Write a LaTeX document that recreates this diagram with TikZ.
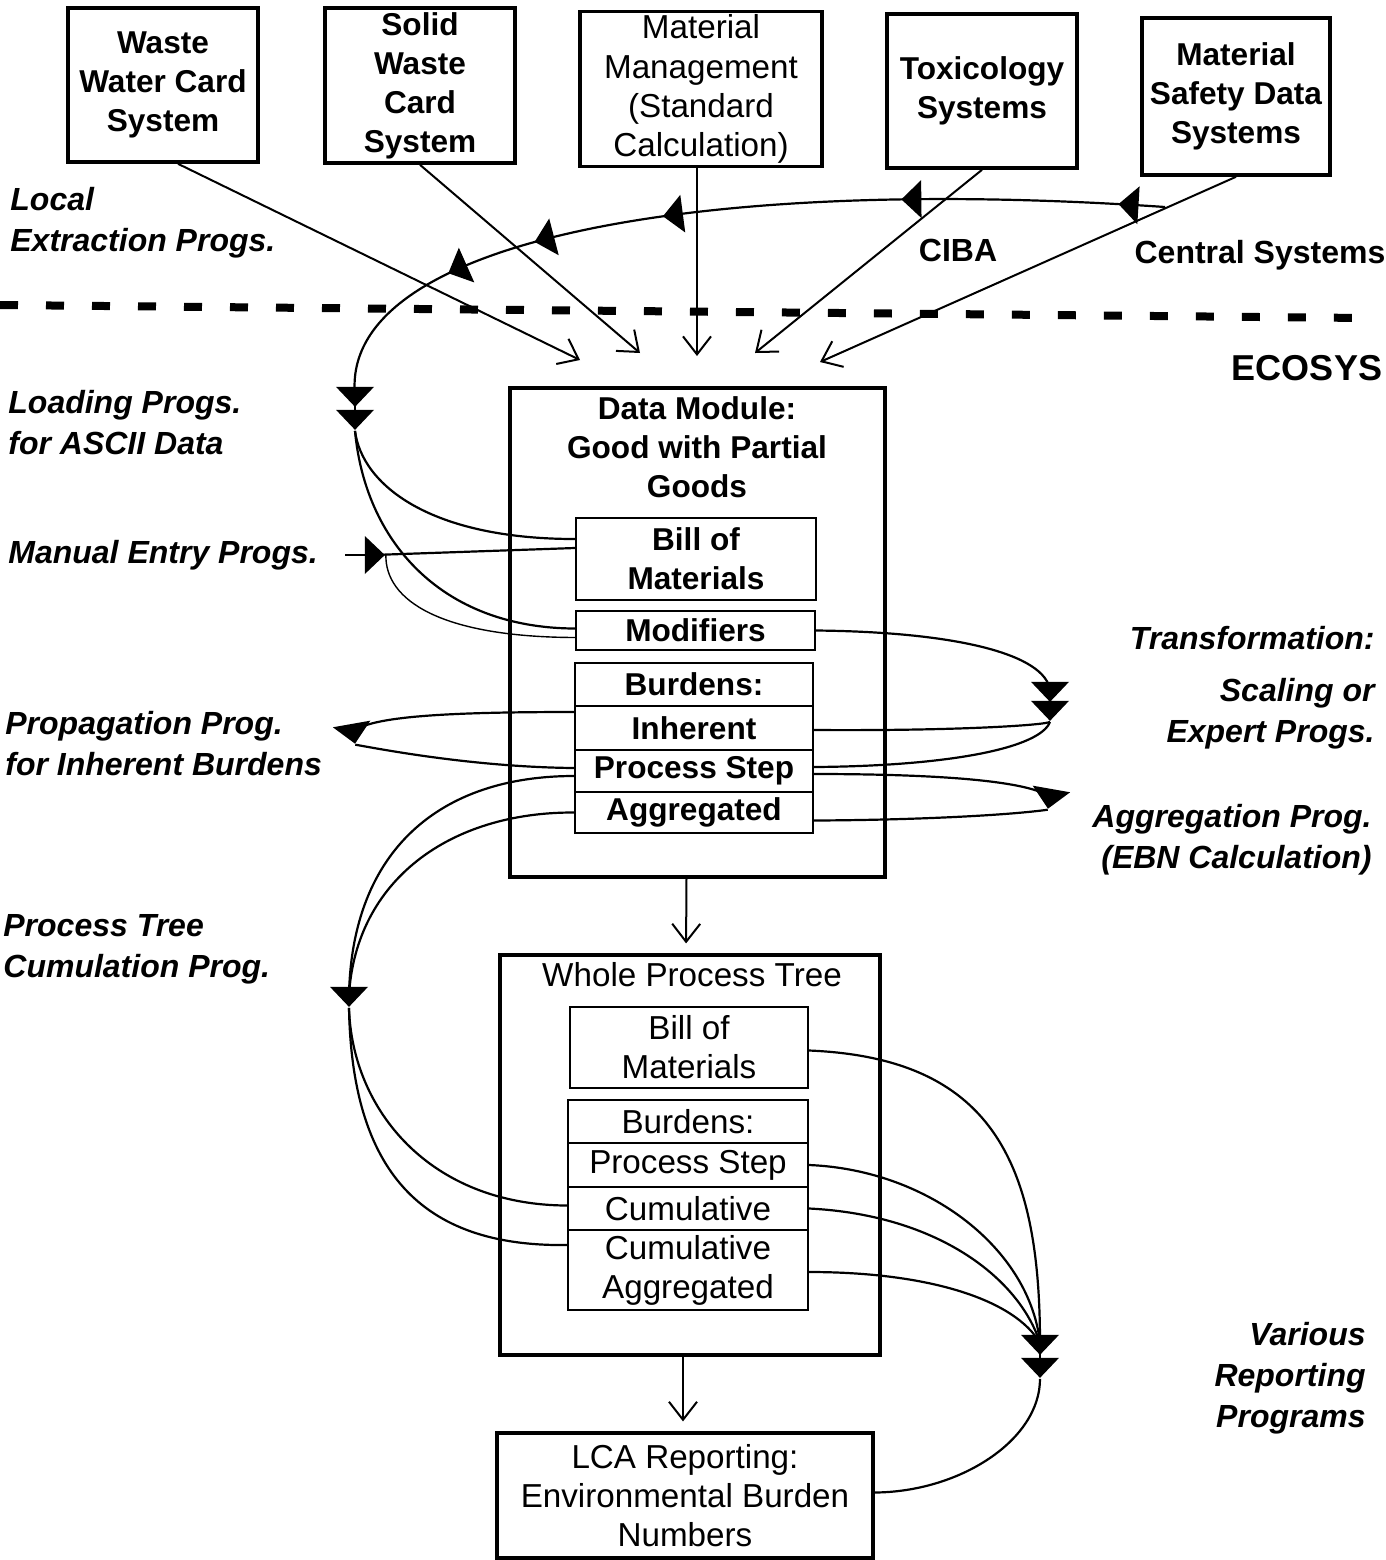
\documentclass[tikz,border=0pt]{standalone}
\usepackage{fontspec}
\setmainfont{Liberation Sans}
\usepackage{tikz}
\newcommand{\progbase}{19pt}
\newcommand{\progdepth}{10pt}
\newcommand{\boldbox}{\fontsize{15.8}{19.5}\selectfont\bfseries}
\newcommand{\plainbox}{\fontsize{16.6}{19.6}\selectfont}
\usetikzlibrary{arrows.meta}
\usetikzlibrary{calc}
\usetikzlibrary{positioning}
\usetikzlibrary{shapes.geometric}
\tikzstyle{srcbox}=[draw, line width=1.8pt, inner sep=0, align=center, font=\boldbox]
\tikzstyle{modbox}=[draw, line width=1.6pt, inner sep=0, align=center, font=\plainbox]
\tikzstyle{subbox}=[draw, line width=1.1pt, inner sep=0, align=center, font=\boldbox]
\tikzstyle{plainsub}=[subbox, font=\plainbox]
\tikzstyle{boxtitle}=[inner sep=0, align=center]
\tikzstyle{prog}=[isosceles triangle, isosceles triangle stretches, fill, inner sep=0,
                  minimum width=\progbase, minimum height=\progdepth]
\tikzstyle{proglabel}=[inner sep=0, font=\fontsize{16}{20.5}\selectfont\bfseries\itshape]
\tikzstyle{sitelabel}=[inner sep=0, font=\fontsize{16}{20}\selectfont\bfseries]
\tikzstyle{feed}=[line width=1pt, -{Straight Barb[length=9pt, width=14pt]}]
\tikzstyle{flow}=[line width=1.1pt]
\tikzstyle{thinflow}=[line width=0.7pt]

\begin{document}
\begin{tikzpicture}[x=0.5pt, y=-0.5pt]
    \useasboundingbox (0,0) rectangle (1386,1560);
    % source systems
    \node[srcbox, minimum width=95pt, minimum height=77pt] (ww) at (163,85) {Waste\\Water Card\\System};
    \node[srcbox, minimum width=95pt, minimum height=77.5pt] (sw) at (420,85.5) {Solid\\Waste\\Card\\System};
    \node[srcbox, font=\plainbox, minimum width=121pt, minimum height=77.5pt] (mm) at (701,89) {Material\\Management\\(Standard\\Calculation)};
    \node[srcbox, minimum width=95pt, minimum height=77pt] (tox) at (982,91) {Toxicology\\Systems};
    \node[srcbox, minimum width=94pt, minimum height=78.5pt] (msds) at (1236,96.5) {Material\\Safety Data\\Systems};

    % data module
    \node[modbox, minimum width=187.5pt, minimum height=244.5pt] (dm) at (697.5,632.5) {};
    \node[boxtitle, font=\boldbox] (dmtitle) at (697,447) {Data Module:\\Good with Partial\\Goods};
    \node[subbox, minimum width=120pt, minimum height=41pt] (dmbom) at (696,559) {Bill of\\Materials};
    \node[subbox, minimum width=119.5pt, minimum height=19.5pt] (dmmod) at (695.5,630.5) {Modifiers};
    \node[subbox, minimum width=119pt, minimum height=21.5pt] (dmbur) at (694,684.5) {Burdens:};
    \node[subbox, minimum width=119pt, minimum height=22pt] (dminh) at (694,728) {Inherent};
    \node[subbox, minimum width=119pt, minimum height=21pt] (dmps) at (694,771) {Process Step};
    \node[subbox, minimum width=119pt, minimum height=20.5pt] (dmagg) at (694,812.5) {Aggregated};

    % whole process tree
    \node[modbox, minimum width=190pt, minimum height=200pt] (wpt) at (690,1155) {};
    \node[boxtitle, font=\plainbox] (wpttitle) at (692,975) {Whole Process Tree};
    \node[plainsub, minimum width=119pt, minimum height=40.5pt] (wpbom) at (689,1047.5) {Bill of\\Materials};
    \node[plainsub, minimum width=120pt, minimum height=21.5pt] (wpbur) at (688,1121.5) {Burdens:};
    \node[plainsub, minimum width=120pt, minimum height=22pt] (wpps) at (688,1165) {Process Step};
    \node[plainsub, minimum width=120pt, minimum height=21.5pt] (wpcum) at (688,1208.5) {Cumulative};
    \node[plainsub, minimum width=120pt, minimum height=40pt] (wpcagg) at (688,1270) {Cumulative\\Aggregated};

    % reporting
    \node[modbox, minimum width=188pt, minimum height=62.5pt] (lca) at (685,1495.5) {LCA Reporting:\\Environmental Burden\\Numbers};

    % border between local and central systems
    \draw[line width=4pt, dash pattern=on 9pt off 14pt] (0,305) -- (1365,318);

    % programs
    \node[prog, rotate=-90] (ld1) at (355,395) {};
    \node[prog, rotate=-90] (ld2) at (355,418) {};
    \node[prog] (me) at (373,555) {};
    \node[prog, rotate=-90] (tr1) at (1050,690) {};
    \node[prog, rotate=-90] (tr2) at (1050,709) {};
    \node[prog, rotate=-80] (pp) at (353,732) {};
    \node[prog, rotate=-100] (pa) at (1050,797) {};
    \node[prog, rotate=-90] (pc) at (349,995) {};
    \node[prog, rotate=-90] (vr1) at (1040,1343) {};
    \node[prog, rotate=-90] (vr2) at (1040,1366) {};

    % feeds into the data module
    \coordinate (inww) at (580,360);
    \coordinate (insw) at (640,353);
    \coordinate (inmm) at (697,356);
    \coordinate (intox) at (755,353);
    \coordinate (inmsds) at (820,362);
    \draw[feed] ($(ww.south)+(15,0)$) -- (inww);
    \draw[feed] (sw.south) -- (insw);
    \draw[feed] ($(mm.south)+(-4,0)$) -- (inmm);
    \draw[feed] (tox.south) -- (intox);
    \draw[feed] (msds.south) -- (inmsds);
    \draw[feed, shorten >=5pt] ($(dm.south)+(-11,0)$) -- ($(wpt.north)+(-4,0)$);
    \draw[feed, shorten >=5pt] ($(wpt.south)+(-7,0)$) -- ($(lca.north)+(-2,0)$);

    % local extraction
    \coordinate (lxstart) at (1165,207);
    \draw[flow] (lxstart) .. controls (700,175) and (340,240) .. (ld1.center)
        node[prog, sloped, allow upside down, pos=0.025] (lx1) {}
        node[prog, sloped, allow upside down, pos=0.19] (lx2) {}
        node[prog, sloped, allow upside down, pos=0.4] (lx3) {}
        node[prog, sloped, allow upside down, pos=0.54] (lx4) {}
        node[prog, sloped, allow upside down, pos=0.66] (lx5) {};
    \draw[flow] (ld1.center) -- (ld2.center);
    \draw[flow] (ld2.east) .. controls (362,485) and (430,539) .. ($(dmbom.west)+(0,-20)$);
    \draw[flow] (ld2.east) .. controls (365,540) and (440,628) .. ($(dmmod.west)+(0,-2)$);

    % manual entry
    \coordinate (mestart) at (345,555);
    \draw[flow] (mestart) -- (me.center);
    \draw[flow] (me.center) -- ($(dmbom.west)+(0,-11)$);
    \draw[thinflow] (me.east) .. controls (385,600) and (440,637) .. ($(dmmod.west)+(0,7)$);

    % transformation
    \draw[flow] (dmmod.east) .. controls (960,632) and (1045,655) .. (tr1.center);
    \draw[flow] (tr1.center) -- (tr2.center);
    \draw[flow] (tr2.east) .. controls (1045,725) and (960,731) .. ($(dminh.east)+(0,2)$);
    \draw[flow] (tr2.east) .. controls (1040,748) and (950,766) .. ($(dmps.east)+(0,-4)$);

    % propagation
    \draw[flow] ($(dminh.west)+(0,-16)$) .. controls (450,712) and (370,716) .. (pp.center);
    \draw[flow] (pp.east) .. controls (375,748) and (470,767) .. ($(dmps.west)+(0,-3)$);

    % aggregation
    \draw[flow] ($(dmps.east)+(0,3)$) .. controls (950,774) and (1030,782) .. (pa.center);
    \draw[flow] (pa.east) .. controls (1010,815) and (920,820) .. ($(dmagg.east)+(0,8)$);

    % process tree cumulation
    \draw[flow] ($(dmps.west)+(0,5)$) .. controls (440,776) and (352,850) .. (pc.center);
    \draw[flow] (dmagg.west) .. controls (450,812) and (356,880) .. (pc.center);
    \draw[flow] (pc.east) .. controls (352,1110) and (430,1205) .. ($(wpcum.west)+(0,-3)$);
    \draw[flow] (pc.east) .. controls (352,1170) and (420,1247) .. ($(wpcagg.west)+(0,-25)$);

    % reporting
    \draw[flow] ($(wpbom.east)+(0,3)$) .. controls (990,1058) and (1040,1160) .. (vr1.center);
    \draw[flow] (wpps.east) .. controls (930,1170) and (1030,1250) .. (vr1.center);
    \draw[flow] (wpcum.east) .. controls (940,1215) and (1020,1280) .. (vr1.center);
    \draw[flow] ($(wpcagg.east)+(0,2)$) .. controls (930,1272) and (1015,1300) .. (vr1.center);
    \draw[flow] (vr1.center) -- (vr2.center);
    \draw[flow] (vr2.east) .. controls (1040,1440) and (960,1492) .. ($(lca.east)+(0,-3)$);

    % labels
    \node[proglabel, anchor=west, align=left] (lxlabel) at (10,223) {Local\\Extraction Progs.};
    \node[proglabel, anchor=west, align=left] (ldlabel) at (8,423) {Loading Progs.\\for ASCII Data};
    \node[proglabel, anchor=west] (melabel) at (8,555) {Manual Entry Progs.};
    \node[proglabel, anchor=west, align=left] (pplabel) at (5,744) {Propagation Prog.\\for Inherent Burdens};
    \node[proglabel, anchor=west, align=left] (pclabel) at (3,949) {Process Tree\\Cumulation Prog.};
    \node[proglabel, anchor=east] (trlabel) at (1375,638) {Transformation:};
    \node[proglabel, anchor=east, align=right] (sclabel) at (1375,714) {Scaling or\\Expert Progs.};
    \node[proglabel, anchor=east, align=right] (palabel) at (1372,840) {Aggregation Prog.\\(EBN Calculation)};
    \node[proglabel, anchor=east, align=right] (vrlabel) at (1366,1378) {Various\\Reporting\\Programs};
    \node[sitelabel] (ciba) at (958,250) {CIBA};
    \node[sitelabel] (central) at (1260,255) {Central Systems};
    \node[sitelabel, font=\fontsize{18}{20}\selectfont\bfseries] (ecosys) at (1307,368) {ECOSYS};
\end{tikzpicture}
\end{document}
